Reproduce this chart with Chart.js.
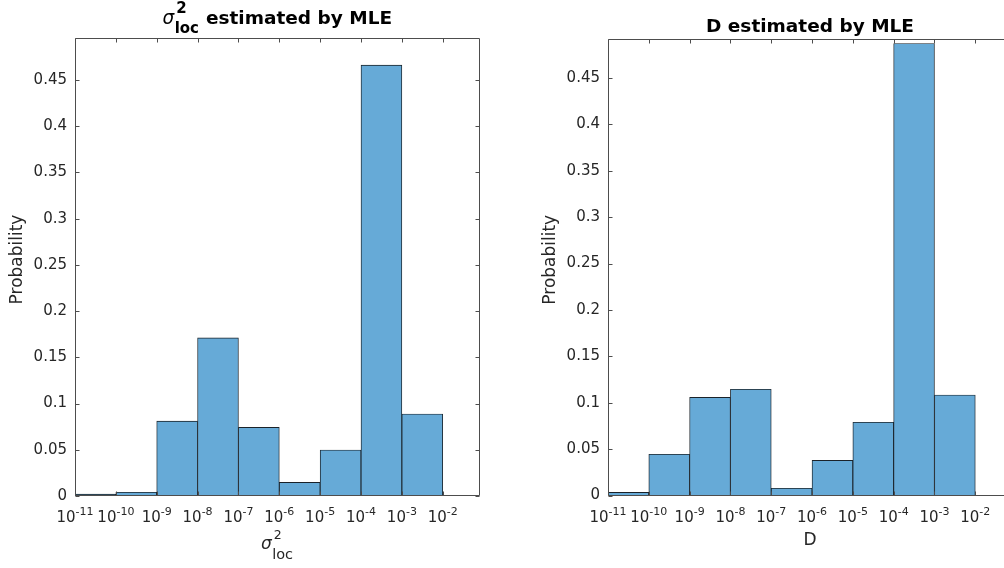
<!DOCTYPE html>
<html>
<head>
<meta charset="utf-8">
<script src="https://cdn.jsdelivr.net/npm/chart.js@4/dist/chart.umd.min.js"></script>
<style>
  html, body { margin:0; padding:0; background:#fff; overflow:hidden; width:1004px; height:568px; }
  .wrap { position:absolute; top:0; height:568px; }
</style>
</head>
<body>
<div class="wrap" style="left:0;width:502px;"><canvas id="c1"></canvas></div>
<div class="wrap" style="left:532px;width:490px;"><canvas id="c2"></canvas></div>
<script>
// ---- data ----
const binEdgeExponents = [-11, -10, -9, -8, -7, -6, -5, -4, -3, -2];
const xTickExponents = [-11, -10, -9, -8, -7, -6, -5, -4, -3, -2];
const yTickValues = [0, 0.05, 0.1, 0.15, 0.2, 0.25, 0.3, 0.35, 0.4, 0.45];
const sigmaLocProb = [0.002, 0.004, 0.081, 0.171, 0.0743, 0.0148, 0.0498, 0.4662, 0.0887];
const dProb = [0.0034, 0.0444, 0.1058, 0.1145, 0.0078, 0.0379, 0.0789, 0.4871, 0.1083];
const yTitle = 'Probability';
const rightTitle = 'D estimated by MLE';
const rightXLabel = 'D';

// ---- helpers ----
const FONT = 'DejaVu Sans';
const TXT = '#262626';

function histData(probs) {
  return probs.map((p, i) => ({ x: (binEdgeExponents[i] + binEdgeExponents[i + 1]) / 2, y: p }));
}

const framePlugin = {
  id: 'frame',
  afterDraw(chart) {
    const { ctx, chartArea: { left, right, top, bottom }, scales: { x, y } } = chart;
    ctx.save();
    ctx.strokeStyle = '#4d4d4d';
    ctx.lineWidth = 1;
    const L = Math.round(left) + 0.5, R = Math.round(right) - 0.5;
    const T = Math.round(top) + 0.5, B = Math.round(bottom) - 0.5;
    ctx.beginPath();
    ctx.rect(L, T, R - L, B - T);
    ctx.stroke();
    const tl = 4;
    ctx.beginPath();
    x.ticks.forEach(t => {
      const px = Math.round(x.getPixelForValue(t.value)) + 0.5;
      ctx.moveTo(px, B); ctx.lineTo(px, B - tl);
      ctx.moveTo(px, T); ctx.lineTo(px, T + tl);
    });
    y.ticks.forEach(t => {
      const py = Math.round(y.getPixelForValue(t.value)) + 0.5;
      ctx.moveTo(L, py); ctx.lineTo(L + tl, py);
      ctx.moveTo(R, py); ctx.lineTo(R - tl, py);
    });
    ctx.stroke();

    // x tick labels: 10 with raised exponent
    ctx.fillStyle = TXT;
    ctx.textBaseline = 'alphabetic';
    ctx.textAlign = 'left';
    const base = Math.round(bottom) + 26;
    x.ticks.forEach(t => {
      const px = x.getPixelForValue(t.value);
      const expo = String(t.value);
      ctx.font = '15px "' + FONT + '"';
      const wb = ctx.measureText('10').width;
      ctx.font = '11px "' + FONT + '"';
      const we = ctx.measureText(expo).width;
      const x0 = px - (wb + we) / 2;
      ctx.font = '15px "' + FONT + '"';
      ctx.fillText('10', x0, base);
      ctx.font = '11px "' + FONT + '"';
      ctx.fillText(expo, x0 + wb, base - 7.5);
    });

    // y axis title
    ctx.save();
    ctx.font = '17px "' + FONT + '"';
    ctx.textAlign = 'center';
    ctx.textBaseline = 'middle';
    ctx.translate(chart.options.plugins.frame.yTitleX, (top + bottom) / 2 - 7.5);
    ctx.rotate(-Math.PI / 2);
    ctx.fillText(yTitle, 0, 0);
    ctx.restore();
    ctx.restore();
  }
};

// sigma^2_loc composite text
function drawSigmaLoc(ctx, cx, base, o) {
  ctx.save();
  ctx.textBaseline = 'alphabetic';
  ctx.textAlign = 'left';
  ctx.fillStyle = o.color;
  ctx.font = 'italic ' + o.sigSize + 'px "' + FONT + '"';
  const wS = ctx.measureText('\u03C3').width;
  ctx.font = o.weight + ' ' + o.supSize + 'px "' + FONT + '"';
  const w2 = ctx.measureText('2').width;
  ctx.font = o.weight + ' ' + o.subSize + 'px "' + FONT + '"';
  const wl = ctx.measureText('loc').width;
  let wr = 0;
  if (o.rest) { ctx.font = o.restFont; wr = ctx.measureText(o.rest).width; }
  const total = wS + 1 + Math.max(w2, wl) + wr;
  const x0 = cx - total / 2;
  ctx.font = 'italic ' + o.sigSize + 'px "' + FONT + '"';
  ctx.fillText('\u03C3', x0, base);
  ctx.font = o.weight + ' ' + o.supSize + 'px "' + FONT + '"';
  ctx.fillText('2', x0 + wS + 2, base - o.supRise);
  ctx.font = o.weight + ' ' + o.subSize + 'px "' + FONT + '"';
  ctx.fillText('loc', x0 + wS + 0.5, base + o.subDrop);
  if (o.rest) { ctx.font = o.restFont; ctx.fillText(o.rest, x0 + wS + 1 + Math.max(w2, wl), base); }
  ctx.restore();
}

function makeChart(id, probs, cfg) {
  const textPlugin = {
    id: 'texts',
    afterDraw(chart) {
      const { ctx, chartArea: { left, right } } = chart;
      const cx = (left + right) / 2;
      cfg.drawTexts(ctx, cx);
    }
  };
  return new Chart(document.getElementById(id), {
    type: 'bar',
    data: {
      datasets: [{
        data: histData(probs),
        backgroundColor: 'rgb(102,170,215)',
        borderColor: '#1a2229',
        borderWidth: 0.9,
        borderSkipped: 'start',
        barPercentage: 1,
        categoryPercentage: 1
      }]
    },
    options: {
      responsive: true,
      maintainAspectRatio: false,
      devicePixelRatio: 1,
      animation: false,
      layout: { padding: { top: cfg.top, left: 0, right: cfg.padRight, bottom: 0 } },
      plugins: {
        legend: { display: false }, tooltip: { enabled: false }, title: { display: false },
        frame: { yTitleX: cfg.yTitleX }
      },
      scales: {
        x: {
          type: 'linear',
          offset: false,
          min: -11,
          max: -1.1,
          grid: { display: false, drawTicks: false },
          border: { display: false },
          afterBuildTicks: s => { s.ticks = xTickExponents.map(v => ({ value: v })); },
          afterFit: s => { s.height = cfg.xHeight; },
          ticks: {
            display: false, autoSkip: false, maxRotation: 0, minRotation: 0,
            callback: v => '10^' + v
          },
          title: cfg.xTitle ? {
            display: true, text: cfg.xTitle, color: TXT,
            font: { family: FONT, size: 17 }, padding: { top: 0, bottom: 17 }
          } : { display: false }
        },
        y: {
          min: 0,
          max: cfg.ymax,
          grid: { display: false, drawTicks: false },
          border: { display: false },
          afterBuildTicks: s => { s.ticks = yTickValues.map(v => ({ value: v })); },
          afterFit: s => { s.width = cfg.yWidth; },
          ticks: {
            padding: 8, color: TXT, font: { family: FONT, size: 15 },
            callback: v => String(Math.round(v * 100) / 100)
          },
          title: { display: false, text: yTitle }
        }
      }
    },
    plugins: [framePlugin, textPlugin]
  });
}

makeChart('c1', sigmaLocProb, {
  top: 38, padRight: 22.5, xHeight: 72, yWidth: 75, ymax: 0.4955, yTitleX: 18,
  xTitle: null,
  drawTexts(ctx, cx) {
    drawSigmaLoc(ctx, cx, 24, {
      color: '#000', weight: 'bold', sigSize: 18.5, supSize: 15, subSize: 15,
      supRise: 11, subDrop: 9, rest: ' estimated by MLE', restFont: 'bold 18.5px "' + FONT + '"'
    });
    drawSigmaLoc(ctx, cx, 549, {
      color: TXT, weight: 'normal', sigSize: 17, supSize: 12.5, subSize: 14.5,
      supRise: 10, subDrop: 10, rest: null
    });
  }
});

makeChart('c2', dProb, {
  top: 39, padRight: 10, xHeight: 72.5, yWidth: 76, ymax: 0.492, yTitleX: 19,
  xTitle: rightXLabel,
  drawTexts(ctx, cx) {
    ctx.save();
    ctx.fillStyle = '#000';
    ctx.font = 'bold 18.5px "' + FONT + '"';
    ctx.textAlign = 'center';
    ctx.textBaseline = 'alphabetic';
    ctx.fillText(rightTitle, cx, 32);
    ctx.restore();
  }
});
</script>
</body>
</html>
